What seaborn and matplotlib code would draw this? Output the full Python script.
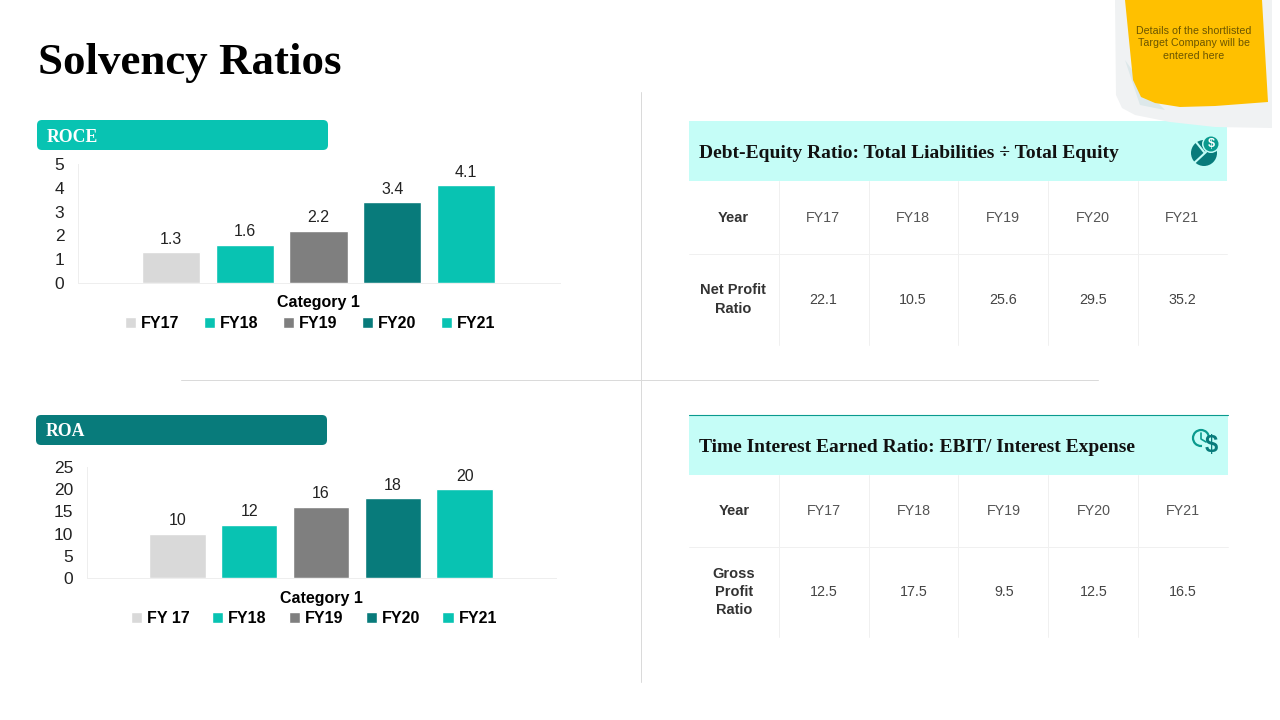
import pandas as pd
import matplotlib.pyplot as plt
from matplotlib.patches import Rectangle, FancyBboxPatch, Polygon, Circle
import seaborn as sns

sns.set_theme(style="white")
plt.rcParams['font.family'] = ['Liberation Sans', 'DejaVu Sans']

SERIF = ['Liberation Serif', 'DejaVu Serif']
TEAL = "#08c3b2"
DARK_TEAL = "#087b7b"
LIGHT = "#c5fdf7"
COLORS = ["#d9d9d9", TEAL, "#7f7f7f", DARK_TEAL, TEAL]

W, H = 1280, 720
fig = plt.figure(figsize=(12.8, 7.2), dpi=100, facecolor="white")

# 背景层，用像素坐标
bg = fig.add_axes([0, 0, 1, 1])
bg.set_xlim(0, W)
bg.set_ylim(H, 0)
bg.axis("off")

bg.text(38, 63, "Solvency Ratios", family=SERIF, fontsize=32.3, fontweight="bold",
        color="black", va="center")

# 分割线
bg.plot([641, 641], [92, 682], color="#d9d9d9", lw=0.7)
bg.plot([181, 1098], [380, 380], color="#d9d9d9", lw=0.7)


def pill(x, y, w, h, color, label):
    bg.add_patch(FancyBboxPatch((x + 5, y + 5), w - 10, h - 10, boxstyle="round,pad=5",
                                fc=color, ec="none"))
    bg.text(x + 10, y + h / 2 + 2, label, family=SERIF, fontsize=12.8, fontweight="bold",
            color="white", va="center")


pill(37, 120, 291, 30, TEAL, "ROCE")
pill(36, 415, 291, 30, DARK_TEAL, "ROA")


# 柱状图
def bar_chart(left, right, top, bottom, years, values, ymax, step, fmt, legend_y, legend_x, spacing):
    ax = fig.add_axes([left / W, 1 - bottom / H, (right - left) / W, (bottom - top) / H])
    df = pd.DataFrame({"cat": "Category 1", "year": years, "value": values})
    sns.barplot(data=df, x="cat", y="value", hue="year", hue_order=years, palette=COLORS,
                width=0.766, gap=0.214, saturation=1, ax=ax)
    for c in ax.containers:
        ax.bar_label(c, fmt=fmt, fontsize=11.5, color="#222222", padding=4)
    ax.set_xlim(-0.5, 0.5)
    ax.set_ylim(0, ymax)
    ax.set_yticks(range(0, ymax + 1, step))
    ax.tick_params(axis="y", labelsize=12.5, labelcolor="#222222", length=0, pad=9.5)
    ax.tick_params(axis="x", length=0, pad=9)
    ax.set_xticks([0], ["Category 1"], fontsize=11.5, fontweight="bold", color="black")
    ax.set_xlabel("")
    ax.set_ylabel("")
    sns.despine(ax=ax)
    ax.spines["left"].set_color("#eeeeee")
    ax.spines["bottom"].set_color("#eeeeee")
    ax.spines["left"].set_linewidth(0.7)
    ax.spines["bottom"].set_linewidth(0.7)
    handles, labels = ax.get_legend_handles_labels()
    ax.legend(handles, labels, ncol=5, frameon=False, loc="center",
              bbox_to_anchor=((legend_x - left) / (right - left), (bottom - legend_y) / (bottom - top)),
              prop={"weight": "bold", "size": 11.5}, labelcolor="black",
              handlelength=0.7, handleheight=0.7, handletextpad=0.3, columnspacing=spacing)


bar_chart(77.5, 559.5, 164, 283, ["FY17", "FY18", "FY19", "FY20", "FY21"],
          [1.3, 1.6, 2.2, 3.4, 4.1], 5, 1, "%.1f", 324, 310, 1.53)
bar_chart(86.5, 555.5, 467, 578, ["FY 17", "FY18", "FY19", "FY20", "FY21"],
          [10, 12, 16, 18, 20], 25, 5, "%d", 618.5, 314, 1.4)


# 右侧表格
def ratio_table(x0, x1, head_top, head_bot, mid, end, title, row_name, years, values, vlines, row_y, offset):
    bg.add_patch(Rectangle((x0, head_top), x1 - x0, head_bot - head_top, fc=LIGHT, ec="none"))
    bg.text(x0 + 10, (head_top + head_bot) / 2 + 2, title, family=SERIF, fontsize=14,
            fontweight="bold", color="#111111", va="center")
    bg.plot([x0, x1], [mid, mid], color="#f0f0f0", lw=0.7)
    for x in vlines:
        bg.plot([x, x], [head_bot, end], color="#f0f0f0", lw=0.7)
    bg.text(733 + offset, row_y[0], "Year", fontsize=10.5, fontweight="bold", color="#333333",
            ha="center", va="center")
    bg.text(733 + offset, row_y[1], row_name, fontsize=10.5, fontweight="bold", color="#333333",
            ha="center", va="center", linespacing=1.4)
    centers = [823, 913, 1003, 1093, 1182]
    for cx, y, v in zip(centers, years, values):
        bg.text(cx + offset, row_y[0], y, fontsize=10.3, color="#555555", ha="center", va="center")
        bg.text(cx + offset, row_y[1], v, fontsize=10.3, color="#444444", ha="center", va="center")


fy = ["FY17", "FY18", "FY19", "FY20", "FY21"]
ratio_table(689, 1227, 121, 181, 254, 345, "Debt-Equity Ratio: Total Liabilities ÷ Total Equity",
            "Net Profit\nRatio", fy, ["22.1", "10.5", "25.6", "29.5", "35.2"],
            [779, 869, 958, 1048, 1138], (218, 299.5), 0)
ratio_table(689, 1228, 415, 475, 547, 637, "Time Interest Earned Ratio: EBIT/ Interest Expense",
            "Gross\nProfit\nRatio", fy, ["12.5", "17.5", "9.5", "12.5", "16.5"],
            [779, 869, 958, 1048, 1138], (511, 592), 1)
bg.plot([689, 1228], [414.5, 414.5], color="#0a9a8e", lw=0.8)

# 便签
bg.add_patch(Polygon([(1115, 0), (1272, 0), (1272, 128), (1215, 127), (1170, 122), (1135, 115),
                      (1122, 108), (1116, 95)], fc="#f0f2f3", ec="none"))
bg.add_patch(Polygon([(1125, 60), (1140, 105), (1165, 110), (1150, 95)], fc="#dde8ea", ec="none"))
bg.add_patch(Polygon([(1125, 0), (1262, 0), (1268, 102), (1215, 106), (1180, 107), (1155, 103),
                      (1141, 97), (1133, 80)], fc="#ffc000", ec="none"))
bg.text(1194, 43.5, "Details of the shortlisted\nTarget Company will be\nentered here", fontsize=7.7,
        color="#6b5500", ha="center", va="center", linespacing=1.35)

# 图标
bg.add_patch(Circle((1204, 153), 13, fc=DARK_TEAL, ec="none"))
bg.plot([1192, 1206], [165, 152], color=LIGHT, lw=1.5)
bg.plot([1196, 1204], [142, 152], color=LIGHT, lw=1.5)
bg.add_patch(Circle((1211, 144), 9, fc=LIGHT, ec="none"))
bg.add_patch(Circle((1211, 144), 7.5, fc="#0a9a8e", ec="none"))
bg.text(1211, 144, "$", fontsize=9, fontweight="bold", color="white", ha="center", va="center")
bg.add_patch(Circle((1201, 438), 8, fc="none", ec="#0a9a8e", lw=1.6))
bg.plot([1201, 1201, 1206], [433, 439, 442], color="#0a9a8e", lw=1.2)
bg.add_patch(Circle((1211, 446), 9, fc=LIGHT, ec="none"))
bg.text(1211, 446, "$", fontsize=17, fontweight="bold", color=DARK_TEAL, ha="center", va="center")

plt.savefig("out.png", dpi=100)
